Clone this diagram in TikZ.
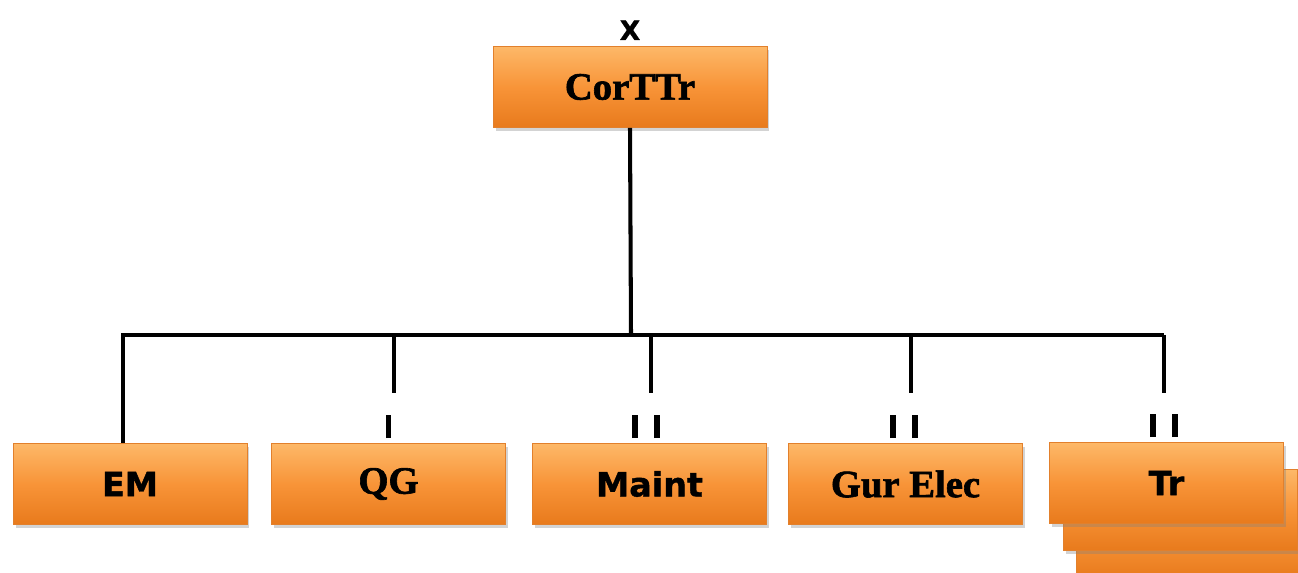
\documentclass[tikz,border=0pt]{standalone}
\usepackage{fontspec}
\setmainfont{Liberation Serif}[BoldFeatures={FakeBold=1.6}]
\newfontfamily\boxsans{DejaVu Sans}[BoldFeatures={FakeBold=1.2}]
\usetikzlibrary{positioning,shadows}

\definecolor{orgtop}{RGB}{253,184,104}
\definecolor{orgmid}{RGB}{248,148,56}
\definecolor{orgbot}{RGB}{232,122,28}
\definecolor{orgedge}{RGB}{226,128,44}

\tikzset{
  orgbox/.style={rectangle, minimum width=4.68cm, minimum height=1.62cm, inner sep=0pt,
    top color=orgtop, bottom color=orgbot, middle color=orgmid, draw=orgedge, line width=0.5pt,
    drop shadow={opacity=0.35, shadow xshift=0.5mm, shadow yshift=-0.7mm}},
  seriflab/.style={font=\fontsize{22}{25}\selectfont\bfseries},
  sanslab/.style={font=\boxsans\fontsize{19}{22}\selectfont\bfseries},
  conn/.style={line width=2.3pt},
  tick/.style={line width=3.2pt}
}

\begin{document}
\begin{tikzpicture}[x=0.02cm, y=-0.02cm]
\useasboundingbox (0,0) rectangle (1298,573);

% top box
\node[orgbox, seriflab, minimum width=5.48cm] (corttr) at (630,87) {CorTTr};
\node[sanslab, font=\boxsans\fontsize{15}{18}\selectfont\bfseries, above=0pt of corttr] (xlab) {X};

% lower row
\node[orgbox, sanslab] (em) at (130,484) {EM};
\node[orgbox, seriflab] (qg) at (388.5,484) {QG};
\node[orgbox, sanslab] (maint) at (649.5,484) {Maint};
\node[orgbox, seriflab] (gur) at (905.5,484) {Gur Elec};
\node[orgbox] (tr3) at (1193.5,537) {};
\node[orgbox] (tr2) at (1180,510) {};
\node[orgbox, sanslab] (tr) at (1166.5,483) {Tr};

% bus
\coordinate (bus) at (631,335);
\draw[conn] (corttr.south) -- (bus);
\draw[conn] ([xshift=-7*0.02cm]em.north) -- ([xshift=-7*0.02cm]em.north |- bus) -- ([xshift=-2.5*0.02cm]tr.north |- bus);

% stubs hanging from the bus
\foreach \n/\dx in {qg/5.5, maint/1.5, gur/5.5, tr/-2.5}
  \draw[conn] ([xshift=\dx*0.02cm]\n.north |- bus) -- ++(0,58);

% broken ends above the boxes
\draw[tick] ([yshift=0.1cm]qg.north) -- ++(0,-23);
\foreach \n/\dx in {maint/-3.5, gur/-1.5, tr/-2.5}{
  \draw[tick] ([xshift=(\dx-11)*0.02cm, yshift=0.1cm]\n.north) -- ++(0,-23);
  \draw[tick] ([xshift=(\dx+11)*0.02cm, yshift=0.1cm]\n.north) -- ++(0,-23);
}
\end{tikzpicture}
\end{document}
